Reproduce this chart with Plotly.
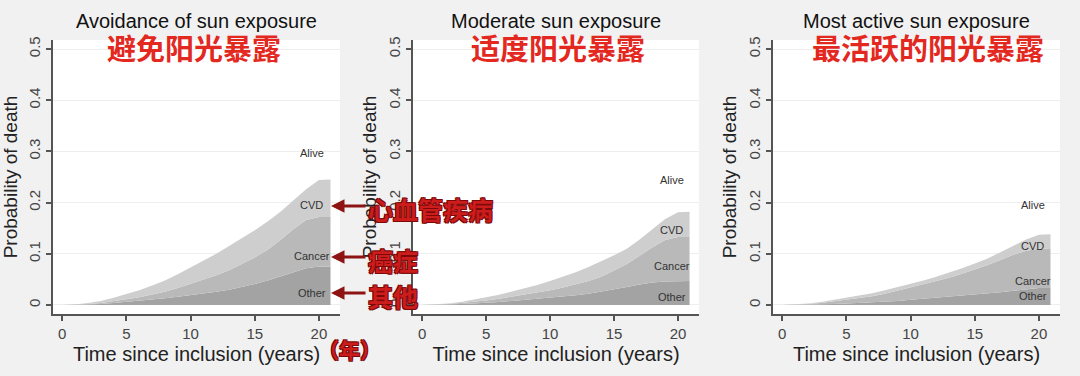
import plotly.graph_objects as go

# ---------------- data ----------------
time_years = [0, 1, 2, 3, 4, 5, 6, 7, 8, 9, 10, 11, 12, 13, 14, 15, 16, 17, 18, 19, 20, 20.9]

panel_titles = ["Avoidance of sun exposure", "Moderate sun exposure", "Most active sun exposure"]
panel_titles_cn = ["避免阳光暴露", "适度阳光暴露", "最活跃的阳光暴露"]
cause_names = ["Other", "Cancer", "CVD"]

# layer heights (stacked): Other, Cancer, CVD
avoid_other = [0, .0003, .001, .002, .004, .006, .008, .010, .013, .016, .019, .022, .026, .030, .035, .041, .048, .056, .065, .072, .075, .075]
avoid_cancer = [0, .0002, .001, .002, .003, .005, .007, .010, .013, .017, .022, .027, .032, .038, .045, .052, .060, .071, .083, .094, .097, .097]
avoid_cvd = [0, .0005, .002, .004, .007, .010, .014, .018, .022, .027, .032, .037, .042, .047, .050, .053, .055, .055, .056, .060, .072, .073]

moderate_other = [0, .0002, .001, .002, .003, .004, .006, .008, .010, .012, .014, .016, .019, .022, .026, .030, .035, .040, .044, .046, .047, .047]
moderate_cancer = [0, .0003, .001, .002, .003, .005, .006, .008, .010, .012, .015, .018, .021, .025, .029, .038, .045, .056, .069, .081, .086, .086]
moderate_cvd = [0, .0005, .001, .002, .004, .006, .008, .010, .012, .015, .018, .021, .024, .027, .030, .029, .030, .032, .035, .041, .048, .049]

active_other = [0, .0002, .0005, .001, .002, .003, .004, .005, .007, .008, .010, .012, .014, .016, .018, .020, .022, .025, .028, .031, .033, .033]
active_cancer = [0, .0006, .0015, .003, .005, .007, .009, .012, .015, .020, .024, .028, .032, .037, .043, .049, .056, .063, .070, .075, .077, .078]
active_cvd = [0, .0002, .001, .002, .003, .004, .005, .006, .007, .007, .008, .008, .009, .010, .011, .012, .013, .015, .018, .022, .027, .027]

# label positions inside each panel (x, y) for Alive, CVD, Cancer, Other
label_names = ["Alive", "CVD", "Cancer", "Other"]
label_x = [19.45, 19.5, 19.5]
label_y = [
    [0.297, 0.195, 0.096, 0.024],
    [0.245, 0.146, 0.076, 0.016],
    [0.195, 0.116, 0.047, 0.017],
]

y_ticks = [0, 0.1, 0.2, 0.3, 0.4, 0.5]
y_ticktext = ["0", "0.1", "0.2", "0.3", "0.4", "0.5"]
x_ticks = [0, 5, 10, 15, 20]

cn_notes = ["心血管疾病", "癌症", "其他"]
cn_year = "（年）"

# ---------------- styling ----------------
W, H = 1080, 376
layer_colors = ["#a3a3a3", "#b9b9b9", "#cecece"]
panel_px = [(53, 340), (413, 699), (773, 1060)]
top_px, bottom_px = 40, 314
EN = "Liberation Sans, Arial, sans-serif"
CN = "Noto Sans CJK SC, sans-serif"
RED = "#e3281f"
DARKRED = "#7a0a0a"

series = [
    (avoid_other, avoid_cancer, avoid_cvd),
    (moderate_other, moderate_cancer, moderate_cvd),
    (active_other, active_cancer, active_cvd),
]

fig = go.Figure()
annotations = []

ydom = [1 - bottom_px / H, 1 - top_px / H]

for i, (layers, (l, r)) in enumerate(zip(series, panel_px)):
    sfx = "" if i == 0 else str(i + 1)
    for name, vals, col in zip(cause_names, layers, layer_colors):
        fig.add_trace(go.Scatter(
            x=time_years, y=vals, mode="lines", name=name,
            stackgroup="s%d" % i, line=dict(width=0, color=col),
            fillcolor=col, showlegend=False, hoverinfo="skip",
            xaxis="x" + sfx, yaxis="y" + sfx,
        ))
    axis_common = dict(
        showline=True, linecolor="#555555", linewidth=2,
        ticks="outside", ticklen=5, tickwidth=1.5, tickcolor="#555555",
        tickfont=dict(family=EN, size=15, color="#444444"),
        zeroline=False, automargin=False,
    )
    fig.update_layout(**{
        "xaxis" + sfx: dict(
            domain=[l / W, r / W], range=[-0.72, 21.64], anchor="y" + sfx,
            tickvals=x_ticks, showgrid=False,
            title=dict(text="Time since inclusion (years)", standoff=6,
                       font=dict(family=EN, size=20, color="#222222")),
            **axis_common,
        ),
        "yaxis" + sfx: dict(
            domain=ydom, range=[-0.0176, 0.5176], anchor="x" + sfx,
            tickvals=y_ticks, ticktext=y_ticktext, tickangle=-90,
            showgrid=True, gridcolor="#eeeeee", gridwidth=1,
            title=dict(text="Probability of death", standoff=4,
                       font=dict(family=EN, size=19, color="#222222")),
            **axis_common,
        ),
    })
    cx = (l + r) / 2 / W
    annotations.append(dict(
        text=panel_titles[i], xref="paper", yref="paper", x=cx, y=1 - 21 / H,
        showarrow=False, xanchor="center", yanchor="middle",
        font=dict(family=EN, size=20, color="#111111"),
    ))
    cn_cx = [193.5, 557.5, 928][i] / W
    annotations.append(dict(
        text=panel_titles_cn[i], xref="paper", yref="paper", x=cn_cx, y=1 - 47 / H,
        showarrow=False, xanchor="center", yanchor="middle",
        font=dict(family=CN, size=29, color=RED, weight="bold"),
    ))
    for name, yv in zip(label_names, label_y[i]):
        annotations.append(dict(
            text=name, xref="x" + sfx, yref="y" + sfx, x=label_x[i], y=yv,
            showarrow=False, xanchor="center", yanchor="middle",
            font=dict(family=EN, size=11, color="#333333"),
        ))

# red explanatory notes with arrows (between panel 1 and 2)
outline = "1px 1px 0 %s, -1px -1px 0 %s, 1px -1px 0 %s, -1px 1px 0 %s" % ((DARKRED,) * 4)
note_y = [206, 257, 293]
for txt, yp in zip(cn_notes, note_y):
    annotations.append(dict(
        text="", xref="paper", yref="paper", x=331 / W, y=1 - yp / H,
        showarrow=True, axref="pixel", ayref="pixel", ax=36, ay=0,
        arrowhead=2, arrowsize=0.9, arrowwidth=3, arrowcolor="#8e1414",
    ))
    annotations.append(dict(
        text=txt, xref="paper", yref="paper", x=366 / W, y=1 - (yp + 3) / H,
        showarrow=False, xanchor="left", yanchor="middle",
        font=dict(family=CN, size=25, color="#cc1c1c", weight="bold", shadow=outline),
    ))
annotations.append(dict(
    text=cn_year, xref="paper", yref="paper", x=349 / W, y=1 - 349 / H,
    showarrow=False, xanchor="center", yanchor="middle",
    font=dict(family=CN, size=21, color="#cc1c1c", weight="bold", shadow=outline),
))

fig.update_layout(
    width=W, height=H, autosize=False,
    margin=dict(l=0, r=0, t=0, b=0),
    paper_bgcolor="#f1f1f1", plot_bgcolor="#ffffff",
    annotations=annotations, showlegend=False,
)

fig.write_html(
    "out.html",
    config={"displayModeBar": False},
    post_script="document.body.style.margin='0';document.body.style.overflow='hidden';",
)
